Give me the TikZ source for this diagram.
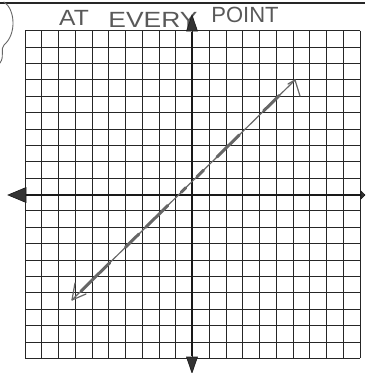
\documentclass[tikz,border=0pt]{standalone}
\usepackage{fontspec}
\setmainfont{Liberation Sans}
\usetikzlibrary{calc}
\begin{document}
\begin{tikzpicture}[x=1pt,y=-1pt,
  gridline/.style={line width=0.8pt,black!85},
  axisline/.style={line width=2.4pt,black!90},
  axistip/.style={fill=black!80,draw=black!90,line width=0.6pt},
  pencil/.style={draw=black!60,line width=1.2pt,line cap=round,line join=round},
  pencilthick/.style={draw=black!60,line width=3pt,line cap=round},
  hand/.style={text=black!65,font=\fontsize{22}{22}\selectfont,inner sep=0pt,anchor=base}]
\useasboundingbox (0,0) rectangle (365,373);
% top border
\draw[line width=1.6pt,black!85] (0,3) -- (365,3);
% bracket on the left
\draw[pencil,line width=0.9pt] (4,2) .. controls (15,9) and (17,34) .. (4,45)
  .. controls (0,49) and (5,56) .. (0,63);
% handwritten text
\node[hand,xscale=1.12] (t1) at (74,25) {AT};
\node[hand,xscale=1.2] (t2) at (153,27) {EVERY};
\node[hand,xscale=1.0] (t3) at (245,22) {POINT};
% grid
\foreach \i in {0,...,20}{
  \draw[gridline] ({25+\i*16.75},30.7) -- ({25+\i*16.75},358.3);
  \draw[gridline] (25,{30.7+\i*16.38}) -- (360,{30.7+\i*16.38});
}
% axes
\coordinate (xl) at (8,195);
\coordinate (xr) at (365,195);
\coordinate (yt) at (192,15);
\coordinate (yb) at (192,373);
\draw[axisline] (23,195) -- (xr);
\draw[axisline] (192,32) -- (192,356);
\fill[axistip] (xl) -- (26,187.5) -- (26,202.5) -- cycle;
\fill[axistip] (yt) -- (186.5,31) -- (197.5,31) -- cycle;
\fill[axistip] (yb) -- (186.5,357) -- (197.5,357) -- cycle;
\fill[axistip] (365,195) -- (361,191) -- (361,199) -- cycle;
% the line
\coordinate (la) at (72,300);
\coordinate (lb) at (295,80);
\draw[pencil] (la) -- (lb);
\foreach \a/\b in {0.04/0.17,0.24/0.30,0.33/0.43,0.49/0.51,0.56/0.59,0.65/0.75,0.86/0.93}{
  \draw[pencilthick] ($(la)!\a!(lb)$) -- ($(la)!\b!(lb)$);
}
% handwritten open arrowheads
\draw[pencil] (75,283) -- (la) -- (86,294);
\draw[pencil] (288,84) -- (lb) -- (300,96);
\end{tikzpicture}
\end{document}
